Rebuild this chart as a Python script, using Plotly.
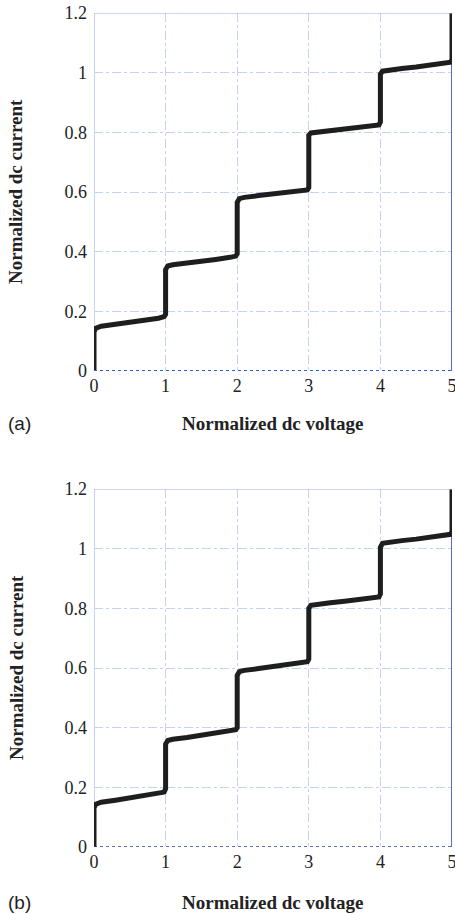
import plotly.graph_objects as go

# Panel (a) staircase I-V data
volt_a = [0, 0, 0.02, 0.1, 0.3, 0.5, 0.7, 0.9, 0.98, 1.0, 1.0, 1.03, 1.1, 1.3, 1.5, 1.7, 1.9, 1.98, 2.0, 2.0, 2.03, 2.1, 2.3, 2.5, 2.7, 2.9, 2.98, 3.0, 3.0, 3.03, 3.1, 3.3, 3.5, 3.7, 3.9, 3.98, 4.0, 4.0, 4.03, 4.1, 4.3, 4.5, 4.7, 4.9, 4.98, 5.0, 5.0]
curr_a = [0, 0.13, 0.143, 0.15, 0.157, 0.163, 0.170, 0.177, 0.182, 0.19, 0.34, 0.352, 0.356, 0.361, 0.368, 0.374, 0.381, 0.385, 0.393, 0.565, 0.578, 0.582, 0.588, 0.593, 0.598, 0.604, 0.607, 0.615, 0.79, 0.798, 0.800, 0.806, 0.811, 0.816, 0.821, 0.825, 0.835, 0.995, 1.005, 1.008, 1.014, 1.019, 1.025, 1.031, 1.035, 1.045, 1.2]

# Panel (b) staircase I-V data
volt_b = [0, 0, 0.02, 0.1, 0.3, 0.5, 0.7, 0.9, 0.98, 1.0, 1.0, 1.03, 1.1, 1.3, 1.5, 1.7, 1.9, 1.98, 2.0, 2.0, 2.03, 2.1, 2.3, 2.5, 2.7, 2.9, 2.98, 3.0, 3.0, 3.03, 3.1, 3.3, 3.5, 3.7, 3.9, 3.98, 4.0, 4.0, 4.03, 4.1, 4.3, 4.5, 4.7, 4.9, 4.98, 5.0, 5.0]
curr_b = [0, 0.13, 0.143, 0.15, 0.157, 0.164, 0.171, 0.178, 0.184, 0.195, 0.345, 0.357, 0.361, 0.367, 0.374, 0.381, 0.389, 0.393, 0.40, 0.575, 0.588, 0.592, 0.598, 0.604, 0.610, 0.617, 0.621, 0.63, 0.80, 0.810, 0.813, 0.819, 0.824, 0.829, 0.834, 0.838, 0.848, 1.005, 1.018, 1.021, 1.027, 1.032, 1.038, 1.044, 1.048, 1.058, 1.2]

x_ticks = [0, 1, 2, 3, 4, 5]
y_ticks = [0, 0.2, 0.4, 0.6, 0.8, 1.0, 1.2]
y_tick_text = ["0", "0.2", "0.4", "0.6", "0.8", "1", "1.2"]
panel_labels = ["(a)", "(b)"]
x_title = "Normalized dc voltage"
y_title = "Normalized dc current"

W, H = 455, 914
xl, xr = 94, 452
panels_px = [(13, 371), (489, 847)]

fig = go.Figure()
grid_col = "#c6d2f4"
serif = "Liberation Serif, Times New Roman, serif"
tick_font = dict(family=serif, size=18, color="#222")

for i, (vx, cy) in enumerate([(volt_a, curr_a), (volt_b, curr_b)]):
    sfx = "" if i == 0 else "2"
    fig.add_trace(go.Scatter(
        x=vx, y=cy, mode="lines",
        line=dict(color="#1e1e1e", width=5, shape="linear"),
        xaxis="x" + sfx, yaxis="y" + sfx, showlegend=False, hoverinfo="skip",
        cliponaxis=False))
    top, bot = panels_px[i]
    xdom = [xl / W, xr / W]
    ydom = [1 - bot / H, 1 - top / H]
    fig.layout["xaxis" + sfx] = dict(
        domain=xdom, range=[0, 5], tickvals=x_ticks, showgrid=True,
        gridcolor=grid_col, griddash="dashdot", gridwidth=1,
        zeroline=False, showline=False, ticks="", tickfont=tick_font,
        anchor="y" + sfx, fixedrange=True, ticklabeloverflow="allow",
        ticklabelstandoff=2, automargin=False)
    fig.layout["yaxis" + sfx] = dict(
        domain=ydom, range=[0, 1.2], tickvals=y_ticks, ticktext=y_tick_text,
        showgrid=True, gridcolor=grid_col, griddash="dashdot", gridwidth=1,
        zeroline=False, showline=False, ticks="", tickfont=tick_font,
        anchor="x" + sfx, fixedrange=True, ticklabelstandoff=6,
        automargin=False, ticklabeloverflow="allow")
    xref = "x" + sfx
    yref = "y" + sfx
    # frame: top & left light blue, right solid blue, bottom dotted blue
    fig.add_shape(type="line", xref=xref, yref=yref, x0=0, x1=5, y0=1.2, y1=1.2,
                  line=dict(color="#9db0ee", width=1.2))
    fig.add_shape(type="line", xref=xref, yref=yref, x0=0, x1=0, y0=0, y1=1.2,
                  line=dict(color="#9db0ee", width=1.2), layer="below")
    fig.add_shape(type="line", xref=xref, yref=yref, x0=5, x1=5, y0=0, y1=1.2,
                  line=dict(color="#1c3fc8", width=1.5), layer="below")
    fig.add_shape(type="line", xref=xref, yref=yref, x0=0, x1=5, y0=0, y1=0,
                  line=dict(color="#2f5fd8" if i == 0 else "#27408f",
                            width=2.2 if i == 0 else 1.4, dash="dot"))
    # axis titles and panel label
    fig.add_annotation(text="<b>" + x_title + "</b>", xref="paper", yref="paper",
                       x=(xl + xr) / 2 / W, y=1 - (423 if i == 0 else 902) / H,
                       showarrow=False, xanchor="center", yanchor="middle",
                       font=dict(family=serif, size=19, color="#222"))
    fig.add_annotation(text=panel_labels[i], xref="paper", yref="paper",
                       x=6 / W, y=1 - (423 if i == 0 else 902) / H,
                       showarrow=False, xanchor="left", yanchor="middle",
                       font=dict(family="Liberation Sans, Arial, sans-serif", size=19, color="#222"))
    fig.add_annotation(text="<b>" + y_title + "</b>", xref="paper", yref="paper",
                       x=16 / W, y=1 - ((top + bot) / 2) / H, textangle=-90,
                       showarrow=False, xanchor="center", yanchor="middle",
                       font=dict(family=serif, size=19, color="#222"))

fig.update_layout(width=W, height=H, margin=dict(l=0, r=0, t=0, b=0, autoexpand=False),
                  plot_bgcolor="white", paper_bgcolor="white")
fig.write_html("out.html")
